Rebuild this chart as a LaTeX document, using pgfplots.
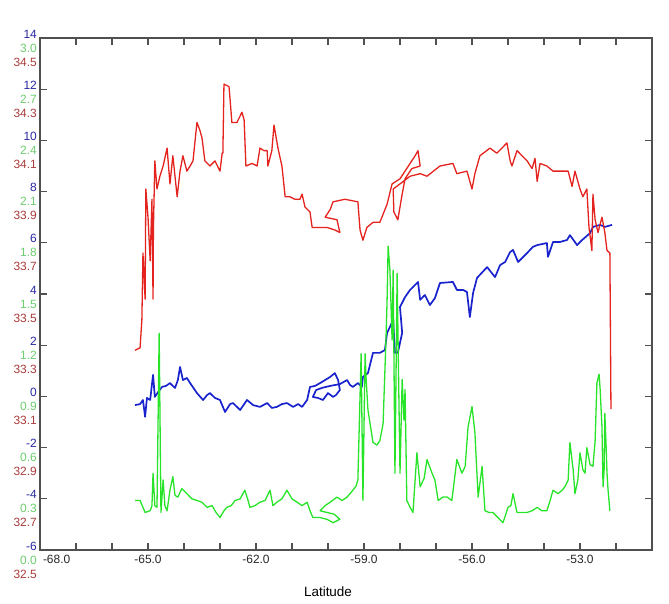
\documentclass[border=0pt]{standalone}
\usepackage{fontspec}
\setmainfont{Liberation Sans}
\usepackage{pgfplots}
\pgfplotsset{compat=1.18}
\definecolor{cblue}{RGB}{25,35,205}
\definecolor{cgreen}{RGB}{40,228,40}
\definecolor{cred}{RGB}{228,35,30}
\definecolor{lblue}{RGB}{40,40,160}
\definecolor{lgreen}{RGB}{110,205,110}
\definecolor{lred}{RGB}{170,60,60}
\definecolor{axgray}{RGB}{80,80,80}
\pgfplotsset{
  common/.style={
    scale only axis, width=612bp, height=512bp,
    xmin=-68, xmax=-51,
    /pgf/number format/assume math mode=true,
    tick label style={font=\fontsize{12}{14}\selectfont},
  },
  overlay/.style={
    common,
    axis line style={draw=none},
    xtick=\empty,
    major tick length=0pt,
    tick style={draw=none},
  }
}
\begin{document}
\begin{tikzpicture}
\begin{axis}[common, name=main,
  ymin=-6, ymax=14, ytick={-6,-4,...,14},
  xtick={-68,-65,-62,-59,-56,-53},
  xticklabels={{\makebox[0pt][l]{\hspace{3bp}-68.0}},-65.0,-62.0,-59.0,-56.0,-53.0},
  minor xtick={-67,-66,-64,-63,-61,-60,-58,-57,-55,-54,-52},
  tick align=inside,
  major tick length=7bp, minor tick length=7bp,
  axis line style={draw=axgray, line width=1.3bp},
  every tick/.style={axgray, line width=1.1bp},
  yticklabel style={text=lblue, anchor=east, inner sep=0pt, xshift=-3bp, yshift=4bp},
  xticklabel style={text=black!85, inner sep=0pt, yshift=-5bp},
  xlabel={Latitude},
  xlabel style={at={(rel axis cs:0.4706,0)}, anchor=center, yshift=-42bp, font=\fontsize{13.5}{16}\selectfont},
]
\addplot[cblue, line width=1.7bp, line join=round] table {
-65.36 -0.34
-65.22 -0.30
-65.14 -0.14
-65.08 -0.80
-65.03 -0.06
-64.94 -0.14
-64.86 0.84
-64.81 -0.02
-64.72 0.17
-64.61 0.37
-64.50 0.41
-64.39 0.52
-64.25 0.33
-64.17 0.64
-64.11 1.15
-64.03 0.64
-63.92 0.72
-63.83 0.52
-63.64 0.13
-63.47 -0.14
-63.36 0.05
-63.28 0.13
-63.14 -0.06
-63.00 -0.14
-62.86 -0.61
-62.72 -0.30
-62.64 -0.26
-62.44 -0.53
-62.25 -0.14
-62.08 -0.34
-61.89 -0.41
-61.69 -0.26
-61.56 -0.45
-61.42 -0.41
-61.28 -0.30
-61.14 -0.26
-60.97 -0.41
-60.83 -0.30
-60.72 -0.41
-60.58 -0.14
-60.50 0.37
-60.36 0.41
-60.22 0.52
-60.08 0.64
-59.94 0.76
-59.81 0.91
-59.72 0.64
-59.67 0.25
-59.78 0.05
-59.86 -0.02
-60.00 0.13
-60.14 -0.14
-60.28 -0.06
-60.42 -0.02
-60.33 0.25
-60.17 0.33
-59.94 0.41
-59.67 0.48
-59.47 0.64
-59.39 0.45
-59.31 0.37
-59.17 0.52
-59.06 0.37
-59.03 0.76
-58.89 0.91
-58.75 1.70
-58.56 1.70
-58.42 1.81
-58.36 2.48
-58.19 2.98
-58.14 1.70
-58.06 1.70
-57.94 2.48
-58.00 3.49
-57.86 3.88
-57.72 4.16
-57.64 4.27
-57.50 4.47
-57.44 3.77
-57.31 3.96
-57.17 3.57
-57.03 3.84
-56.89 4.43
-56.53 4.47
-56.42 4.16
-56.25 4.16
-56.14 4.08
-56.06 3.10
-55.97 4.04
-55.86 4.63
-55.58 5.05
-55.36 4.66
-55.22 5.13
-55.08 5.25
-54.94 5.64
-54.86 5.72
-54.72 5.25
-54.47 5.60
-54.31 5.84
-54.19 5.91
-53.92 5.99
-53.89 5.45
-53.75 6.03
-53.56 6.03
-53.36 6.11
-53.28 6.30
-53.08 5.91
-52.94 6.11
-52.72 6.38
-52.64 6.62
-52.44 6.70
-52.31 6.62
-52.11 6.70
};
\end{axis}
\begin{axis}[overlay,
  ymin=0, ymax=3, ytick={0,0.3,0.6,0.9,1.2,1.5,1.8,2.1,2.4,2.7,3.0},
  yticklabel style={text=lgreen, anchor=east, inner sep=0pt, xshift=-3bp, yshift=-10bp,
    /pgf/number format/fixed, /pgf/number format/fixed zerofill, /pgf/number format/precision=1},
]
\addplot[cgreen, line width=1.3bp, line join=round] table {
-65.36 0.29
-65.22 0.29
-65.08 0.22
-64.94 0.23
-64.89 0.26
-64.86 0.45
-64.81 0.26
-64.75 0.25
-64.69 1.27
-64.64 0.22
-64.58 0.41
-64.53 0.26
-64.47 0.23
-64.39 0.35
-64.31 0.43
-64.25 0.32
-64.17 0.31
-64.06 0.36
-63.92 0.33
-63.78 0.30
-63.64 0.29
-63.50 0.28
-63.36 0.25
-63.22 0.26
-63.11 0.22
-63.00 0.19
-62.89 0.23
-62.81 0.25
-62.69 0.26
-62.58 0.29
-62.44 0.30
-62.31 0.35
-62.22 0.29
-62.17 0.25
-62.03 0.26
-61.89 0.28
-61.75 0.29
-61.61 0.35
-61.53 0.26
-61.42 0.28
-61.28 0.30
-61.14 0.35
-61.00 0.30
-60.86 0.28
-60.72 0.26
-60.58 0.28
-60.50 0.23
-60.42 0.19
-60.22 0.19
-60.03 0.18
-59.86 0.16
-59.67 0.18
-59.83 0.21
-60.03 0.22
-60.22 0.23
-60.08 0.26
-59.94 0.28
-59.75 0.31
-59.61 0.29
-59.47 0.31
-59.39 0.33
-59.31 0.35
-59.22 0.375
-59.17 0.41
-59.08 1.15
-59.03 0.29
-58.97 1.15
-58.94 1.00
-58.89 0.82
-58.75 0.63
-58.64 0.615
-58.56 0.64
-58.47 0.74
-58.39 1.23
-58.36 1.45
-58.33 1.78
-58.28 1.64
-58.22 1.23
-58.19 1.64
-58.14 0.45
-58.08 1.62
-58.03 0.88
-58.00 0.45
-57.94 1.00
-57.89 0.76
-57.86 0.94
-57.81 0.29
-57.72 0.25
-57.64 0.22
-57.53 0.57
-57.44 0.37
-57.33 0.42
-57.25 0.53
-57.11 0.45
-57.03 0.41
-56.94 0.29
-56.81 0.31
-56.69 0.31
-56.56 0.29
-56.42 0.53
-56.28 0.45
-56.19 0.49
-56.11 0.72
-56.00 0.84
-55.92 0.69
-55.83 0.31
-55.72 0.49
-55.64 0.23
-55.53 0.22
-55.42 0.22
-55.28 0.19
-55.14 0.16
-55.06 0.21
-55.00 0.25
-54.92 0.26
-54.86 0.33
-54.75 0.22
-54.61 0.22
-54.47 0.22
-54.33 0.23
-54.19 0.25
-54.06 0.23
-53.92 0.23
-53.83 0.29
-53.75 0.35
-53.61 0.33
-53.50 0.35
-53.42 0.37
-53.33 0.41
-53.28 0.63
-53.19 0.47
-53.14 0.33
-53.06 0.41
-53.00 0.57
-52.92 0.47
-52.86 0.45
-52.81 0.60
-52.72 0.50
-52.64 0.49
-52.58 0.64
-52.53 0.98
-52.47 1.03
-52.44 0.94
-52.39 0.72
-52.36 0.37
-52.33 0.47
-52.31 0.80
-52.28 0.64
-52.25 0.45
-52.22 0.35
-52.17 0.23
};
\end{axis}
\begin{axis}[overlay,
  ymin=32.5, ymax=34.5, ytick={32.5,32.7,32.9,33.1,33.3,33.5,33.7,33.9,34.1,34.3,34.5},
  yticklabel style={text=lred, anchor=east, inner sep=0pt, xshift=-3bp, yshift=-24bp,
    /pgf/number format/fixed, /pgf/number format/fixed zerofill, /pgf/number format/precision=1},
]
\addplot[cred, line width=1.3bp, line join=round] table {
-65.36 33.28
-65.22 33.29
-65.17 33.40
-65.14 33.66
-65.08 33.48
-65.06 33.91
-65.00 33.80
-64.94 33.63
-64.89 33.87
-64.86 33.48
-64.85 33.75
-64.81 34.02
-64.75 33.91
-64.67 33.96
-64.58 34.00
-64.47 34.07
-64.39 33.93
-64.31 34.04
-64.19 33.88
-64.11 33.98
-64.03 34.04
-63.92 33.98
-63.83 34.00
-63.75 34.02
-63.64 34.17
-63.56 34.14
-63.50 34.11
-63.42 34.02
-63.28 34.00
-63.14 34.02
-63.00 33.98
-62.94 34.05
-62.92 34.05
-62.89 34.32
-62.75 34.31
-62.72 34.26
-62.67 34.17
-62.53 34.17
-62.39 34.21
-62.33 34.18
-62.28 34.00
-62.11 34.01
-61.97 34.00
-61.89 34.07
-61.78 34.06
-61.69 34.06
-61.67 34.00
-61.56 34.06
-61.50 34.16
-61.39 34.07
-61.28 34.00
-61.19 33.88
-61.06 33.88
-60.92 33.87
-60.78 33.87
-60.72 33.89
-60.64 33.84
-60.50 33.82
-60.44 33.76
-60.22 33.76
-60.03 33.76
-59.81 33.75
-59.67 33.74
-59.75 33.79
-60.08 33.80
-59.94 33.83
-59.86 33.86
-59.53 33.87
-59.17 33.86
-59.11 33.75
-59.03 33.71
-58.92 33.76
-58.75 33.78
-58.56 33.78
-58.36 33.85
-58.22 33.93
-58.00 33.95
-57.86 33.98
-57.72 34.01
-57.58 34.04
-57.50 34.06
-57.44 34.00
-57.67 33.99
-57.86 33.95
-57.94 33.89
-58.06 33.79
-58.17 33.82
-58.19 33.91
-58.00 33.93
-57.72 33.96
-57.44 33.97
-57.25 33.96
-56.89 34.00
-56.53 34.01
-56.42 33.97
-56.14 33.98
-56.00 33.91
-55.92 33.97
-55.78 34.04
-55.50 34.07
-55.31 34.05
-55.03 34.09
-54.94 34.02
-54.89 34.00
-54.75 34.06
-54.47 34.02
-54.33 33.99
-54.25 34.03
-54.19 33.94
-54.11 34.01
-53.92 34.00
-53.75 33.98
-53.56 33.98
-53.33 33.98
-53.22 33.92
-53.14 33.98
-53.00 33.91
-52.92 33.88
-52.81 33.91
-52.75 33.76
-52.67 33.67
-52.64 33.89
-52.58 33.79
-52.50 33.74
-52.39 33.80
-52.31 33.74
-52.25 33.67
-52.17 33.66
-52.14 33.05
};
\end{axis}
\path[use as bounding box] ([xshift=-40bp,yshift=-54bp]main.south west) rectangle ([xshift=17bp,yshift=38bp]main.north east);
\end{tikzpicture}
\end{document}
